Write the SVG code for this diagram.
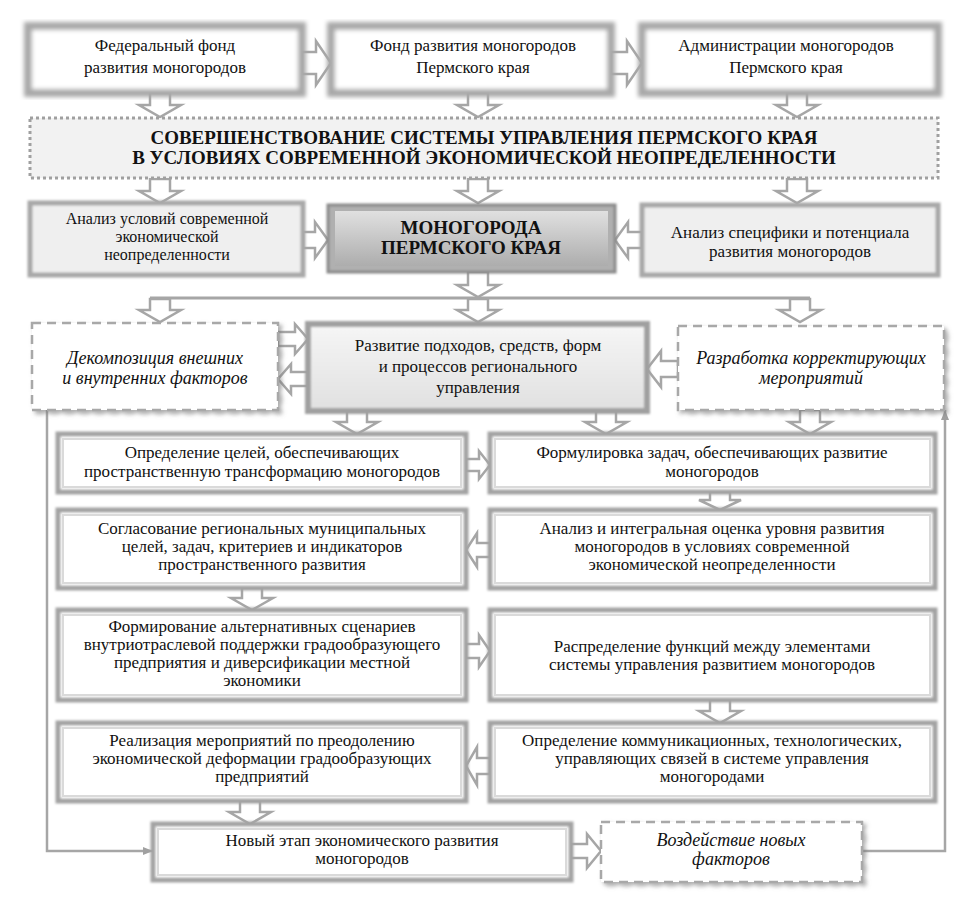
<svg xmlns="http://www.w3.org/2000/svg" width="969" height="908" viewBox="0 0 969 908">
<defs>
<style>
text{font-family:"Liberation Serif","Times New Roman",serif;font-size:17px;fill:#111;text-anchor:middle}
.b{font-weight:bold;font-size:19px}
.it{font-style:italic;font-size:18px}
.s16{font-size:16px}
.arr{fill:#fff;stroke:#a6a6a6;stroke-width:2.5;stroke-linejoin:miter}
.ln{fill:none;stroke:#a6a6a6;stroke-width:3}
.sol{fill:#fff;stroke:#a3a3a3;stroke-width:5}
.inn{fill:none;stroke:#dadada;stroke-width:2}
.top{fill:#fff;stroke:#a8a8a8;stroke-width:8}
.gry{fill:#efefef;stroke:#a8a8a8;stroke-width:5}
.dsh{fill:#fff;stroke:#a8a8a8;stroke-width:2.5;stroke-dasharray:9 6}
.dot{fill:#f2f2f2;stroke:#a0a0a0;stroke-width:3;stroke-dasharray:3 3}
</style>
<filter id="fz" x="-5%" y="-10%" width="110%" height="120%"><feGaussianBlur stdDeviation="1"/></filter>
<filter id="fz2" x="-5%" y="-10%" width="110%" height="120%"><feGaussianBlur stdDeviation="2.2"/></filter>
<filter id="ds" x="-5%" y="-10%" width="115%" height="130%"><feDropShadow dx="3" dy="3" stdDeviation="2" flood-color="#777" flood-opacity="0.6"/></filter>
<linearGradient id="gd" x1="0" y1="0" x2="0" y2="1"><stop offset="0" stop-color="#e0e0e0"/><stop offset="1" stop-color="#adadad"/></linearGradient>
<linearGradient id="gl" x1="0" y1="0" x2="0" y2="1"><stop offset="0" stop-color="#f6f6f6"/><stop offset="1" stop-color="#e0e0e0"/></linearGradient>
<marker id="ah" viewBox="0 0 10 10" refX="10" refY="5" markerWidth="10" markerHeight="10" markerUnits="userSpaceOnUse" orient="auto"><path d="M0,1 L10,5 L0,9 Z" fill="#a0a0a0"/></marker>
</defs>
<rect width="969" height="908" fill="#fff"/>

<g id="connectors">
<path class="arr" d="M302,52 H316 V41 L331,63 L316,85 V74 H302 Z"/>
<path class="arr" d="M611,52 H627 V41 L642,63 L627,85 V74 H611 Z"/>
<path class="arr" d="M150,93 H170 V105 H181 L160,117 L139,105 H150 Z"/>
<path class="arr" d="M468,93 H488 V105 H499 L478,117 L457,105 H468 Z"/>
<path class="arr" d="M787,93 H807 V105 H818 L797,117 L776,105 H787 Z"/>
<path class="arr" d="M150,179 H170 V191 H181 L160,203 L139,191 H150 Z"/>
<path class="arr" d="M468,179 H488 V191 H499 L478,203 L457,191 H468 Z"/>
<path class="arr" d="M787,179 H807 V191 H818 L797,203 L776,191 H787 Z"/>
<path class="arr" d="M303,232 H315 V222 L328,240 L315,258 V248 H303 Z"/>
<path class="arr" d="M642,232 H628 V222 L615,240 L628,258 V248 H642 Z"/>
<path class="arr" d="M468,272 H488 V285 H499 L478,297 L457,285 H468 Z"/>
<path class="ln" d="M150,298 H810"/>
<path class="arr" d="M150,299 H170 V310 H181 L160,322 L139,310 H150 Z"/>
<path class="arr" d="M468,299 H488 V310 H499 L478,322 L457,310 H468 Z"/>
<path class="arr" d="M790,299 H810 V310 H821 L800,322 L779,310 H790 Z"/>
<path class="arr" d="M278,332 H295 V324 L308,339 L295,354 V346 H278 Z"/>
<path class="arr" d="M308,372 H291 V364 L278,379 L291,394 V386 H308 Z"/>
<path class="arr" d="M678,361 H661 V351 L647,369 L661,387 V377 H678 Z"/>
<path class="arr" d="M347,411 H367 V422 H378 L357,434 L336,422 H347 Z"/>
<path class="arr" d="M596,411 H616 V422 H627 L606,434 L585,422 H596 Z"/>
<path class="arr" d="M800,410 H820 V422 H831 L810,434 L789,422 H800 Z"/>
<path class="arr" d="M466,459 H479 V451 L490,465 L479,479 V471 H466 Z"/>
<path class="arr" d="M710,492 H730 V500 H741 L720,510 L699,500 H710 Z"/>
<path class="arr" d="M490,543 H477 V533 L466,550 L477,567 V557 H490 Z"/>
<path class="arr" d="M242,588 H262 V598 H273 L252,610 L231,598 H242 Z"/>
<path class="arr" d="M466,644 H479 V635 L490,651 L479,667 V658 H466 Z"/>
<path class="arr" d="M710,700 H730 V711 H741 L720,723 L699,711 H710 Z"/>
<path class="arr" d="M490,758 H477 V747 L466,766 L477,785 V774 H490 Z"/>
<path class="arr" d="M240,801 H260 V812 H271 L250,824 L229,812 H240 Z"/>
<path class="arr" d="M571,844 H587 V834 L601,851 L587,868 V858 H571 Z"/>
<path d="M47,410 V851 H153" fill="none" stroke="#a6a6a6" stroke-width="2.5" marker-end="url(#ah)"/>
<path d="M862,851 H945 V410" fill="none" stroke="#a6a6a6" stroke-width="2.5" marker-end="url(#ah)"/>
</g>

<g id="n1">
<rect class="top" x="28" y="26" width="274" height="67" filter="url(#fz2)"/>
<text x="165" y="51">Федеральный фонд</text>
<text x="165" y="73">развития моногородов</text>
</g>
<g id="n2">
<rect class="top" x="331" y="26" width="280" height="67" filter="url(#fz2)"/>
<text x="473" y="51">Фонд развития моногородов</text>
<text x="473" y="73">Пермского края</text>
</g>
<g id="n3">
<rect class="top" x="642" y="26" width="296" height="67" filter="url(#fz2)"/>
<text x="786" y="51">Администрации моногородов</text>
<text x="786" y="73">Пермского края</text>
</g>
<g id="n4">
<rect class="dot" x="30" y="118" width="908" height="60"/>
<text class="b" x="484" y="144">СОВЕРШЕНСТВОВАНИЕ СИСТЕМЫ УПРАВЛЕНИЯ ПЕРМСКОГО КРАЯ</text>
<text class="b" x="484" y="164">В УСЛОВИЯХ СОВРЕМЕННОЙ ЭКОНОМИЧЕСКОЙ НЕОПРЕДЕЛЕННОСТИ</text>
</g>
<g id="n5">
<rect class="gry" x="30" y="203" width="273" height="72" filter="url(#fz)"/>
<text class="s16" x="167" y="224">Анализ условий современной</text>
<text class="s16" x="167" y="242">экономической</text>
<text class="s16" x="167" y="260">неопределенности</text>
</g>
<g id="n6">
<rect x="328" y="205" width="287" height="67" fill="#b0b0b0" stroke="#8a8a8a" stroke-width="3" filter="url(#fz)"/>
<rect x="335" y="211" width="273" height="55" fill="url(#gd)"/>
<text class="b" x="471" y="234">МОНОГОРОДА</text>
<text class="b" x="471" y="254">ПЕРМСКОГО КРАЯ</text>
</g>
<g id="n7">
<rect class="gry" x="642" y="205" width="296" height="70" filter="url(#fz)"/>
<text x="790" y="238">Анализ специфики и потенциала</text>
<text x="790" y="257">развития моногородов</text>
</g>
<g id="n8">
<rect class="dsh" x="32" y="323" width="246" height="87" filter="url(#ds)"/>
<text class="it" x="155" y="364">Декомпозиция внешних</text>
<text class="it" x="155" y="384">и внутренних факторов</text>
</g>
<g id="n9">
<rect x="308" y="324" width="339" height="87" fill="url(#gl)" stroke="#a0a0a0" stroke-width="6" filter="url(#fz)"/>
<text x="478" y="351">Развитие подходов, средств, форм</text>
<text x="478" y="372">и процессов регионального</text>
<text x="478" y="393">управления</text>
</g>
<g id="n10">
<rect class="dsh" x="678" y="326" width="266" height="84" filter="url(#ds)"/>
<text class="it" x="811" y="364">Разработка корректирующих</text>
<text class="it" x="811" y="384">мероприятий</text>
</g>
<g id="n11">
<rect class="sol" x="58" y="434" width="408" height="58" filter="url(#fz)"/>
<rect class="inn" x="63" y="439" width="398" height="48"/>
<text x="262" y="458">Определение целей, обеспечивающих</text>
<text x="262" y="477">пространственную трансформацию моногородов</text>
</g>
<g id="n12">
<rect class="sol" x="490" y="434" width="445" height="58" filter="url(#fz)"/>
<rect class="inn" x="495" y="439" width="435" height="48"/>
<text x="712" y="458">Формулировка задач, обеспечивающих развитие</text>
<text x="712" y="477">моногородов</text>
</g>
<g id="n13">
<rect class="sol" x="58" y="510" width="408" height="78" filter="url(#fz)"/>
<rect class="inn" x="63" y="515" width="398" height="68"/>
<text x="262" y="534">Согласование региональных муниципальных</text>
<text x="262" y="552">целей, задач, критериев и индикаторов</text>
<text x="262" y="570">пространственного развития</text>
</g>
<g id="n14">
<rect class="sol" x="490" y="510" width="445" height="78" filter="url(#fz)"/>
<rect class="inn" x="495" y="515" width="435" height="68"/>
<text x="712" y="534">Анализ и интегральная оценка уровня развития</text>
<text x="712" y="552">моногородов в условиях современной</text>
<text x="712" y="570">экономической неопределенности</text>
</g>
<g id="n15">
<rect class="sol" x="58" y="610" width="408" height="90" filter="url(#fz)"/>
<rect class="inn" x="63" y="615" width="398" height="80"/>
<text x="262" y="632">Формирование альтернативных сценариев</text>
<text x="262" y="650">внутриотраслевой поддержки градообразующего</text>
<text x="262" y="668">предприятия и диверсификации местной</text>
<text x="262" y="686">экономики</text>
</g>
<g id="n16">
<rect class="sol" x="490" y="610" width="445" height="90" filter="url(#fz)"/>
<rect class="inn" x="495" y="615" width="435" height="80"/>
<text x="712" y="652">Распределение функций между элементами</text>
<text x="712" y="670">системы управления развитием моногородов</text>
</g>
<g id="n17">
<rect class="sol" x="58" y="723" width="408" height="78" filter="url(#fz)"/>
<rect class="inn" x="63" y="728" width="398" height="68"/>
<text x="262" y="746">Реализация мероприятий по преодолению</text>
<text x="262" y="764">экономической деформации градообразующих</text>
<text x="262" y="782">предприятий</text>
</g>
<g id="n18">
<rect class="sol" x="490" y="723" width="445" height="78" filter="url(#fz)"/>
<rect class="inn" x="495" y="728" width="435" height="68"/>
<text x="712" y="746">Определение коммуникационных, технологических,</text>
<text x="712" y="764">управляющих связей в системе управления</text>
<text x="712" y="782">моногородами</text>
</g>
<g id="n19">
<rect class="sol" x="153" y="824" width="418" height="56" filter="url(#fz)"/>
<rect class="inn" x="158" y="829" width="408" height="46"/>
<text x="362" y="846">Новый этап экономического развития</text>
<text x="362" y="864">моногородов</text>
</g>
<g id="n20">
<rect class="dsh" x="601" y="822" width="261" height="60" filter="url(#ds)"/>
<text class="it" x="731" y="846">Воздействие новых</text>
<text class="it" x="731" y="865">факторов</text>
</g>
</svg>
